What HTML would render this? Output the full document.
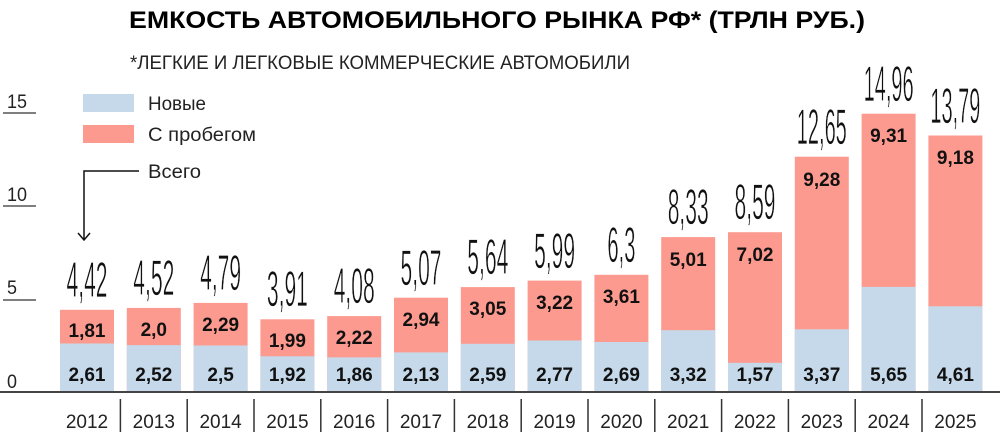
<!DOCTYPE html>
<html><head><meta charset="utf-8"><style>
html,body{margin:0;padding:0;background:#fff;}
svg{display:block;font-family:"Liberation Sans",sans-serif;}
.t{font-size:50px;fill:#111;stroke:#fff;stroke-width:0.8px;paint-order:normal;}
.v{font-size:19px;font-weight:bold;fill:#111;text-anchor:middle;}
.y{font-size:19px;fill:#222;text-anchor:middle;}
.a{font-size:19px;fill:#222;}
.n{fill:#c5d9ea}.u{fill:#fd9a8f}
</style></head><body>
<svg width="1000" height="438" viewBox="0 0 1000 438">
<text x="497" y="28" text-anchor="middle" font-size="24" font-weight="900" textLength="736" lengthAdjust="spacingAndGlyphs" fill="#000">ЕМКОСТЬ АВТОМОБИЛЬНОГО РЫНКА РФ* (ТРЛН РУБ.)</text>
<text x="130" y="69" font-size="19" fill="#222" textLength="500" lengthAdjust="spacingAndGlyphs">*ЛЕГКИЕ И ЛЕГКОВЫЕ КОММЕРЧЕСКИЕ АВТОМОБИЛИ</text>
<g class="a">
<text x="7" y="108" textLength="20" lengthAdjust="spacingAndGlyphs">15</text>
<text x="7" y="201" textLength="20" lengthAdjust="spacingAndGlyphs">10</text>
<text x="7" y="294" textLength="10" lengthAdjust="spacingAndGlyphs">5</text>
<text x="7" y="388" textLength="10" lengthAdjust="spacingAndGlyphs">0</text>
</g>
<g stroke="#555" stroke-width="1.5">
<line x1="3" y1="113" x2="36" y2="113"/><line x1="3" y1="206" x2="36" y2="206"/><line x1="3" y1="300" x2="36" y2="300"/>
</g>
<rect class="n" x="83" y="94" width="51" height="18"/>
<rect class="u" x="83" y="125" width="51" height="18"/>
<text x="148" y="110" font-size="19" fill="#222" textLength="58" lengthAdjust="spacingAndGlyphs">Новые</text>
<text x="148" y="141" font-size="19" fill="#222" textLength="108" lengthAdjust="spacingAndGlyphs">С пробегом</text>
<text x="148" y="178" font-size="19" fill="#222" textLength="53" lengthAdjust="spacingAndGlyphs">Всего</text>
<polyline points="139,171 84,171 84,240" fill="none" stroke="#111" stroke-width="1.5"/>
<polyline points="78,233 84,240 90,233" fill="none" stroke="#111" stroke-width="1.5"/>
<g>
<rect class="u" x="60" y="309.8" width="54" height="82.2"/><rect class="n" x="60" y="343.5" width="54" height="48.5"/>
<rect class="u" x="126.8" y="307.9" width="54" height="84.1"/><rect class="n" x="126.8" y="345.1" width="54" height="46.9"/>
<rect class="u" x="193.6" y="302.9" width="54" height="89.1"/><rect class="n" x="193.6" y="345.5" width="54" height="46.5"/>
<rect class="u" x="260.4" y="319.3" width="54" height="72.7"/><rect class="n" x="260.4" y="356.3" width="54" height="35.7"/>
<rect class="u" x="327.2" y="316.1" width="54" height="75.9"/><rect class="n" x="327.2" y="357.4" width="54" height="34.6"/>
<rect class="u" x="394" y="297.7" width="54" height="94.3"/><rect class="n" x="394" y="352.4" width="54" height="39.6"/>
<rect class="u" x="460.8" y="287.1" width="54" height="104.9"/><rect class="n" x="460.8" y="343.8" width="54" height="48.2"/>
<rect class="u" x="527.6" y="280.6" width="54" height="111.4"/><rect class="n" x="527.6" y="340.5" width="54" height="51.5"/>
<rect class="u" x="594.4" y="274.8" width="54" height="117.2"/><rect class="n" x="594.4" y="342" width="54" height="50"/>
<rect class="u" x="661.2" y="237.1" width="54" height="154.9"/><rect class="n" x="661.2" y="330.2" width="54" height="61.8"/>
<rect class="u" x="728" y="232.2" width="54" height="159.8"/><rect class="n" x="728" y="362.8" width="54" height="29.2"/>
<rect class="u" x="794.8" y="156.7" width="54" height="235.3"/><rect class="n" x="794.8" y="329.3" width="54" height="62.7"/>
<rect class="u" x="861.6" y="113.7" width="54" height="278.3"/><rect class="n" x="861.6" y="286.9" width="54" height="105.1"/>
<rect class="u" x="928.4" y="135.5" width="54" height="256.5"/><rect class="n" x="928.4" y="306.3" width="54" height="85.7"/>
</g>
<line x1="0" y1="392" x2="1000" y2="392" stroke="#444" stroke-width="2"/>
<g class="v">
<text x="87" y="381">2,61</text><text x="153.8" y="381">2,52</text><text x="220.6" y="381">2,5</text><text x="287.4" y="381">1,92</text><text x="354.2" y="381">1,86</text><text x="421" y="381">2,13</text><text x="487.8" y="381">2,59</text><text x="554.6" y="381">2,77</text><text x="621.4" y="381">2,69</text><text x="688.2" y="381">3,32</text><text x="755" y="381">1,57</text><text x="821.8" y="381">3,37</text><text x="888.6" y="381">5,65</text><text x="955.4" y="381">4,61</text>
</g>
<g class="v">
<text x="87" y="337">1,81</text><text x="153.8" y="336">2,0</text><text x="220.6" y="331">2,29</text><text x="287.4" y="347">1,99</text><text x="354.2" y="344">2,22</text><text x="421" y="326">2,94</text><text x="487.8" y="315">3,05</text><text x="554.6" y="309">3,22</text><text x="621.4" y="303">3,61</text><text x="688.2" y="266">5,01</text><text x="755" y="261">7,02</text><text x="821.8" y="186">9,28</text><text x="888.6" y="142">9,31</text><text x="955.4" y="164">9,18</text>
</g>
<g class="t">
<text x="66.5" y="297" textLength="41" lengthAdjust="spacingAndGlyphs">4,42</text>
<text x="133.3" y="295" textLength="41" lengthAdjust="spacingAndGlyphs">4,52</text>
<text x="200.1" y="290" textLength="41" lengthAdjust="spacingAndGlyphs">4,79</text>
<text x="266.9" y="306" textLength="41" lengthAdjust="spacingAndGlyphs">3,91</text>
<text x="333.7" y="303" textLength="41" lengthAdjust="spacingAndGlyphs">4,08</text>
<text x="400.5" y="285" textLength="41" lengthAdjust="spacingAndGlyphs">5,07</text>
<text x="467.3" y="274" textLength="41" lengthAdjust="spacingAndGlyphs">5,64</text>
<text x="534.1" y="268" textLength="41" lengthAdjust="spacingAndGlyphs">5,99</text>
<text x="607.4" y="262" textLength="28" lengthAdjust="spacingAndGlyphs">6,3</text>
<text x="667.7" y="224" textLength="41" lengthAdjust="spacingAndGlyphs">8,33</text>
<text x="734.5" y="219" textLength="41" lengthAdjust="spacingAndGlyphs">8,59</text>
<text x="796.8" y="144" textLength="50" lengthAdjust="spacingAndGlyphs">12,65</text>
<text x="863.6" y="101" textLength="50" lengthAdjust="spacingAndGlyphs">14,96</text>
<text x="930.4" y="123" textLength="50" lengthAdjust="spacingAndGlyphs">13,79</text>
</g>
<g class="y">
<text x="87" y="428">2012</text><text x="153.8" y="428">2013</text><text x="220.6" y="428">2014</text><text x="287.4" y="428">2015</text><text x="354.2" y="428">2016</text><text x="421" y="428">2017</text><text x="487.8" y="428">2018</text><text x="554.6" y="428">2019</text><text x="621.4" y="428">2020</text><text x="688.2" y="428">2021</text><text x="755" y="428">2022</text><text x="821.8" y="428">2023</text><text x="888.6" y="428">2024</text><text x="955.4" y="428">2025</text>
</g>
<g stroke="#333" stroke-width="1.5">
<line x1="120.4" y1="399" x2="120.4" y2="432"/><line x1="187.2" y1="399" x2="187.2" y2="432"/><line x1="254" y1="399" x2="254" y2="432"/><line x1="320.8" y1="399" x2="320.8" y2="432"/><line x1="387.6" y1="399" x2="387.6" y2="432"/><line x1="454.4" y1="399" x2="454.4" y2="432"/><line x1="521.2" y1="399" x2="521.2" y2="432"/><line x1="588" y1="399" x2="588" y2="432"/><line x1="654.8" y1="399" x2="654.8" y2="432"/><line x1="721.6" y1="399" x2="721.6" y2="432"/><line x1="788.4" y1="399" x2="788.4" y2="432"/><line x1="855.2" y1="399" x2="855.2" y2="432"/><line x1="922" y1="399" x2="922" y2="432"/>
</g>
</svg>
</body></html>
